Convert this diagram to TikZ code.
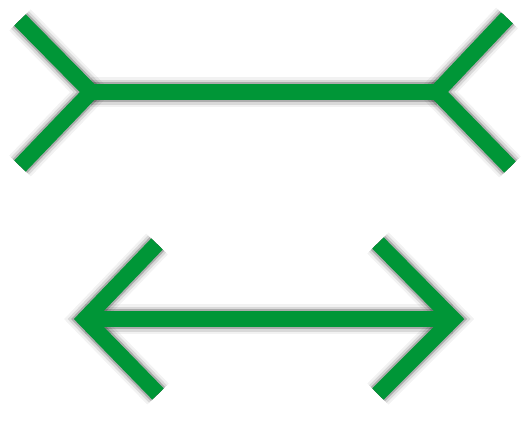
\documentclass[tikz,border=0pt]{standalone}
\begin{document}
\begin{tikzpicture}[x=1pt,y=-1pt,
  fig/.style={line width=16pt,line join=miter,line cap=butt},
  green/.style={fig,draw={rgb,255:red,0;green,150;blue,55}},
  sh/.style={fig,draw=black,line width=#1},
  ]
\useasboundingbox[fill=white] (0,0) rectangle (526,424);
% coordinates
\coordinate (tl1) at (20,20);
\coordinate (tl2) at (20,166);
\coordinate (tj1) at (91,92);
\coordinate (tj2) at (437,92);
\coordinate (tr1) at (507,18);
\coordinate (tr2) at (510,167);
\coordinate (bl) at (85,319);
\coordinate (bl1) at (157,244);
\coordinate (bl2) at (158,394);
\coordinate (br) at (453,319);
\coordinate (br1) at (378,243);
\coordinate (br2) at (378,394);
\newcommand{\figpaths}[1]{%
  \draw[#1] (tl1) -- (tj1) -- (tl2);
  \draw[#1] (tj1) -- (tj2);
  \draw[#1] (tr1) -- (tj2) -- (tr2);
  \draw[#1] (bl1) -- (bl) -- (bl2);
  \draw[#1] (bl) -- (br);
  \draw[#1] (br1) -- (br) -- (br2);
}
\begin{scope}[shift={(5,5)}]
  \figpaths{sh=30pt,draw opacity=0.05}
  \figpaths{sh=25pt,draw opacity=0.1}
  \figpaths{sh=20pt,draw opacity=0.2}
  \figpaths{sh=15pt,draw opacity=0.3}
  \figpaths{sh=11pt,draw opacity=0.4}
\end{scope}
\figpaths{green}
\end{tikzpicture}
\end{document}
